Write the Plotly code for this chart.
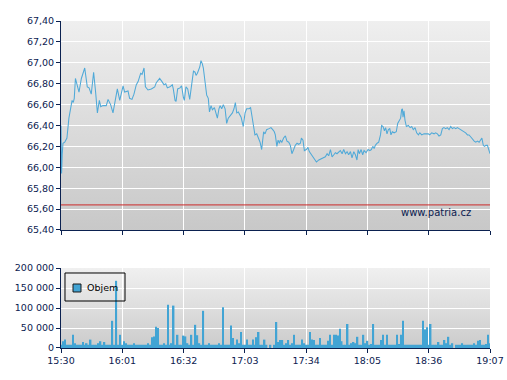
import base64
import plotly.graph_objects as go

# ---------------- data ----------------
tick_labels = ["15:30", "16:01", "16:32", "17:03", "17:34", "18:05", "18:36", "19:07"]

price_minutes = [
    0, 0.3, 0.6, 1.0, 1.9, 3.0, 4.0, 4.9, 5.6, 6.2, 6.7, 7.3, 8.3, 9.1, 10.3, 12.0, 13.3, 14.2,
    15.3, 16.5, 17.5, 18.4, 19.4, 20.1, 21.2, 22.9, 23.8, 25.1, 26.3, 27.2, 28.5, 29.7, 31.4,
    32.2, 33.9, 34.7, 35.9, 36.9, 38.1, 39.0, 40.3, 41.0, 42.0, 42.7, 44.0, 45.7, 47.4, 48.2,
    49.9, 51.1, 52.1, 53.0, 53.8, 55.1, 56.3, 56.8, 57.7, 58.2, 59.0, 60.2, 61.0, 61.9, 62.4,
    63.2, 64.1, 65.1, 66.1, 67.0, 67.8, 68.3, 69.0, 69.5, 70.2, 70.8, 71.5, 72.0, 72.9, 73.7,
    74.5, 75.1, 75.9, 76.6, 77.6, 78.4, 79.1, 79.9, 80.5, 81.3, 82.1, 83.0, 83.8, 84.6, 85.8,
    86.7, 87.5, 88.2, 88.9, 89.7, 91.1, 92.2, 93.1, 93.9, 95.1, 95.9, 96.5, 97.3, 98.1, 99.0,
    99.8, 100.7, 101.5, 102.5, 103.2, 104.0, 105.2, 106.2, 107.1, 107.9, 108.4, 109.2, 109.8,
    110.5, 110.9, 111.7, 112.6, 113.5, 114.3, 115.2, 116.0, 116.8, 117.7, 118.5, 119.4, 120.2,
    121.1, 121.6, 122.4, 123.1, 124.1, 124.9, 125.6, 126.7, 127.8, 129.2, 130.4, 131.7, 132.9,
    133.7, 134.6, 135.4, 136.3, 137.1, 138.0, 138.8, 139.6, 140.5, 141.3, 142.2, 143.0, 143.9,
    144.7, 145.5, 146.4, 147.2, 148.1, 148.9, 149.7, 150.3, 150.9, 151.8, 152.6, 153.3, 154.3,
    155.3, 156.2, 157.0, 157.7, 158.4, 159.0, 159.9, 160.7, 161.6, 162.2, 162.9, 163.6, 164.2,
    164.9, 165.6, 166.3, 166.9, 167.6, 168.5, 169.6, 170.3, 171.0, 171.8, 172.3, 172.7, 173.0,
    173.5, 174.0, 174.7, 175.7, 176.6, 177.4, 178.2, 179.1, 179.9, 180.8, 181.5, 182.5, 183.6,
    184.8, 185.8, 186.5, 187.5, 188.7, 189.5, 190.4, 191.2, 192.1, 192.9, 193.7, 194.6, 195.4,
    196.3, 197.1, 198.0, 198.8, 199.7, 200.5, 201.3, 202.2, 203.0, 203.9, 204.7, 205.6, 206.4,
    207.3, 208.1, 209.0, 209.8, 210.7, 211.5, 212.4, 212.9, 213.6, 214.2, 214.9, 215.7, 216.2,
    217.0,
]

price_values = [
    66.40, 65.94, 66.12, 66.23, 66.24, 66.28, 66.47, 66.59, 66.64, 66.62, 66.66, 66.85, 66.79,
    66.72, 66.85, 66.95, 66.77, 66.76, 66.70, 66.91, 66.72, 66.52, 66.64, 66.58, 66.59, 66.59,
    66.65, 66.60, 66.52, 66.61, 66.75, 66.64, 66.78, 66.72, 66.73, 66.66, 66.65, 66.70, 66.79,
    66.82, 66.90, 66.89, 66.95, 66.77, 66.74, 66.75, 66.77, 66.81, 66.85, 66.82, 66.79, 66.80,
    66.76, 66.77, 66.79, 66.75, 66.64, 66.63, 66.75, 66.76, 66.78, 66.67, 66.64, 66.77, 66.75,
    66.65, 66.79, 66.92, 66.91, 66.88, 66.90, 66.93, 66.96, 67.02, 66.99, 66.95, 66.80, 66.69,
    66.66, 66.53, 66.59, 66.55, 66.57, 66.52, 66.47, 66.56, 66.59, 66.56, 66.60, 66.56, 66.42,
    66.47, 66.50, 66.52, 66.56, 66.62, 66.52, 66.53, 66.48, 66.39, 66.52, 66.56, 66.56, 66.57,
    66.50, 66.40, 66.31, 66.32, 66.28, 66.24, 66.17, 66.34, 66.32, 66.36, 66.37, 66.38, 66.36,
    66.34, 66.31, 66.20, 66.26, 66.23, 66.26, 66.24, 66.28, 66.30, 66.25, 66.24, 66.21, 66.13,
    66.17, 66.21, 66.23, 66.22, 66.23, 66.28, 66.26, 66.16, 66.17, 66.19, 66.15, 66.12, 66.10,
    66.05, 66.07, 66.08, 66.09, 66.10, 66.13, 66.11, 66.17, 66.10, 66.12, 66.14, 66.13, 66.15,
    66.16, 66.13, 66.17, 66.13, 66.15, 66.12, 66.15, 66.09, 66.15, 66.12, 66.07, 66.17, 66.13,
    66.17, 66.12, 66.16, 66.14, 66.17, 66.16, 66.17, 66.20, 66.18, 66.21, 66.23, 66.24, 66.31,
    66.40, 66.39, 66.35, 66.38, 66.32, 66.36, 66.37, 66.31, 66.34, 66.33, 66.34, 66.42, 66.44,
    66.47, 66.55, 66.56, 66.48, 66.54, 66.45, 66.39, 66.40, 66.38, 66.39, 66.36, 66.38, 66.33,
    66.31, 66.33, 66.31, 66.32, 66.32, 66.32, 66.31, 66.33, 66.32, 66.33, 66.32, 66.30, 66.31,
    66.37, 66.38, 66.37, 66.38, 66.36, 66.39, 66.37, 66.38, 66.37, 66.38, 66.37, 66.36, 66.35,
    66.34, 66.33, 66.31, 66.31, 66.29, 66.27, 66.25, 66.24, 66.25, 66.24, 66.26, 66.28, 66.21,
    66.20, 66.21, 66.21, 66.18, 66.13,
]

reference_price = 65.64

# one bar per minute, 15:30 .. 19:07
volume_values = [
    8000, 17000, 21000, 8000, 8000, 8000, 33000, 12000, 8000, 8000,      # 0-9
    8000, 15000, 8000, 12000, 8000, 21000, 8000, 8000, 8000, 12000,      # 10-19
    17000, 8000, 15000, 8000, 8000, 8000, 68000, 8000, 168000, 8000,     # 20-29
    33000, 8000, 17000, 12000, 8000, 8000, 8000, 12000, 8000, 8000,      # 30-39
    8000, 8000, 8000, 8000, 12000, 8000, 27000, 29000, 53000, 50000,     # 40-49
    8000, 8000, 12000, 8000, 108000, 8000, 12000, 106000, 8000, 33000,   # 50-59
    8000, 8000, 31000, 29000, 12000, 8000, 33000, 8000, 58000, 32000,    # 60-69
    12000, 8000, 93000, 8000, 8000, 12000, 8000, 8000, 8000, 8000,       # 70-79
    12000, 8000, 102000, 8000, 8000, 8000, 56000, 25000, 8000, 21000,    # 80-89
    12000, 40000, 8000, 8000, 21000, 8000, 8000, 21000, 8000, 27000,     # 90-99
    40000, 8000, 8000, 21000, 8000, 0, 8000, 0, 8000, 65000,             # 100-109
    15000, 20000, 20000, 8000, 12000, 20000, 8000, 12000, 33000, 8000,   # 110-119
    8000, 8000, 21000, 12000, 8000, 8000, 40000, 21000, 20000, 8000,     # 120-129
    8000, 25000, 8000, 8000, 8000, 18000, 33000, 8000, 33000, 33000,     # 130-139
    31000, 48000, 17000, 8000, 8000, 60000, 8000, 12000, 15000, 12000,   # 140-149
    28000, 8000, 8000, 33000, 12000, 18000, 8000, 10000, 60000, 8000,    # 150-159
    8000, 8000, 20000, 33000, 8000, 33000, 8000, 8000, 8000, 8000,       # 160-169
    33000, 10000, 33000, 68000, 8000, 8000, 8000, 8000, 8000, 8000,      # 170-179
    8000, 8000, 8000, 68000, 46000, 52000, 8000, 60000, 8000, 8000,      # 180-189
    8000, 15000, 8000, 8000, 20000, 12000, 28000, 8000, 12000, 0,        # 190-199
    8000, 8000, 8000, 12000, 8000, 8000, 8000, 8000, 8000, 12000,        # 200-209
    8000, 18000, 20000, 8000, 8000, 10000, 33000, 12000,                 # 210-217
]

legend_label = "Objem"
watermark = "www.patria.cz"

# ---------------- style ----------------
NAVY = "#0b2150"
LINE = "#4fa9d8"
BAR = "#42a4d4"
FONT = "DejaVu Sans"


def gradient(top, bottom):
    svg = (
        '<svg xmlns="http://www.w3.org/2000/svg" width="10" height="100" '
        'viewBox="0 0 10 100" preserveAspectRatio="none">'
        '<defs><linearGradient id="g" x1="0" y1="0" x2="0" y2="1">'
        f'<stop offset="0" stop-color="{top}"/><stop offset="1" stop-color="{bottom}"/>'
        '</linearGradient></defs><rect width="10" height="100" fill="url(#g)"/></svg>'
    )
    return "data:image/svg+xml;base64," + base64.b64encode(svg.encode()).decode()


start = int(tick_labels[0][:2]) * 60 + int(tick_labels[0][3:])
tick_minutes = [int(s[:2]) * 60 + int(s[3:]) - start for s in tick_labels]
x_end = tick_minutes[-1]

fig = go.Figure()
fig.add_trace(go.Scatter(
    x=price_minutes, y=price_values, mode="lines",
    line=dict(color=LINE, width=1.05), xaxis="x", yaxis="y",
    showlegend=False, hoverinfo="skip",
))
fig.add_trace(go.Bar(
    x=list(range(len(volume_values))), y=volume_values, name=legend_label,
    marker=dict(color=BAR, line=dict(width=0)), xaxis="x2", yaxis="y2",
    showlegend=False,
))

axis_common = dict(
    showline=True, linecolor=NAVY, linewidth=1,
    ticks="outside", ticklen=4, tickcolor=NAVY, tickwidth=1,
    showgrid=True, gridcolor="white", gridwidth=1, zeroline=False,
    automargin=False,
    tickfont=dict(family=FONT, size=9.5, color=NAVY),
)

fig.update_layout(
    width=507, height=380, autosize=False,
    margin=dict(l=61, r=17, t=21, b=32),
    paper_bgcolor="white", plot_bgcolor="rgba(0,0,0,0)",
    separators=", ",
    bargap=0.25,
    showlegend=False,
    xaxis=dict(axis_common, domain=[0, 1], range=[0, x_end], anchor="y",
               tickvals=tick_minutes, showticklabels=False),
    yaxis=dict(axis_common, domain=[0.3609, 1], range=[65.4, 67.4],
               tick0=65.4, dtick=0.2, tickformat=".2f", anchor="x"),
    xaxis2=dict(axis_common, domain=[0, 1], range=[0, x_end], anchor="y2",
                tickvals=tick_minutes, ticktext=tick_labels),
    yaxis2=dict(axis_common, domain=[0, 0.2446], range=[0, 200000],
                tick0=0, dtick=50000, tickformat=",d", anchor="x2"),
    images=[
        dict(source=gradient("#efefef", "#c8c8c8"), xref="x", yref="y",
             x=0, y=67.4, sizex=x_end, sizey=2.0, sizing="stretch", layer="below",
             xanchor="left", yanchor="top"),
        dict(source=gradient("#f0f0f0", "#cbcbcb"), xref="x2", yref="y2",
             x=0, y=200000, sizex=x_end, sizey=200000, sizing="stretch", layer="below",
             xanchor="left", yanchor="top"),
    ],
    shapes=[
        dict(type="line", xref="x domain", yref="y", x0=0, x1=1,
             y0=reference_price, y1=reference_price,
             line=dict(color="#cc2a2a", width=1)),
        # legend box
        dict(type="rect", xref="paper", yref="paper", x0=0.0093, x1=0.1492,
             y0=0.1437, y1=0.2294, line=dict(color="black", width=1),
             fillcolor="rgba(0,0,0,0)"),
        dict(type="rect", xref="paper", yref="paper", x0=0.0280, x1=0.0466,
             y0=0.1713, y1=0.1957, line=dict(color="#1a1a1a", width=1),
             fillcolor=BAR),
    ],
    annotations=[
        dict(text=legend_label, xref="paper", yref="paper", x=0.0559, y=0.1835,
             xanchor="left", yanchor="middle", showarrow=False,
             font=dict(family=FONT, size=9.5, color="black")),
        dict(text=watermark, xref="paper", yref="paper", x=0.9604, y=0.4159,
             xanchor="right", yanchor="middle", showarrow=False,
             font=dict(family=FONT, size=10, color=NAVY)),
    ],
)

fig.write_html(
    "out.html",
    config=dict(responsive=False, displayModeBar=False),
    post_script="document.body.style.margin='0';document.body.style.overflow='hidden';",
)
